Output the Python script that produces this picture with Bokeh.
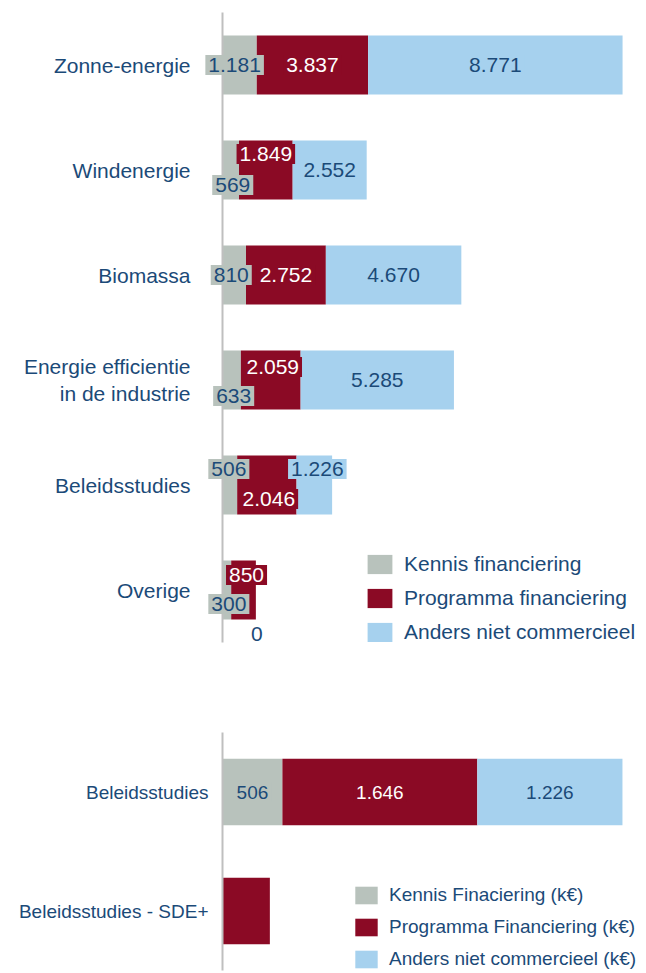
from bokeh.plotting import figure
from bokeh.models import ColumnDataSource, Legend, LegendItem, FactorRange, Range1d
from bokeh.layouts import column
from bokeh.core.properties import value
from bokeh.embed import file_html
from bokeh.resources import INLINE

# ---------------- data ----------------
categories = ["Zonne-energie", "Windenergie", "Biomassa",
              "Energie efficientie\nin de industrie", "Beleidsstudies", "Overige"]
kennis = [1181, 569, 810, 633, 506, 300]
programma = [3837, 1849, 2752, 2059, 2046, 850]
anders = [8771, 2552, 4670, 5285, 1226, 0]
series_names = ["Kennis financiering", "Programma financiering", "Anders niet commercieel"]

categories2 = ["Beleidsstudies", "Beleidsstudies - SDE+"]
kennis2 = [506, 0]
programma2 = [1646, 400]
anders2 = [1226, 0]
series_names2 = ["Kennis Finaciering (k€)", "Programma Financiering (k€)",
                 "Anders niet commercieel (k€)"]

# ---------------- style ----------------
FONT = "Liberation Sans"
DARK = "#1b4a78"
GREY = "#b8c2bc"
RED = "#8b0a25"
BLUE = "#a6d1ee"
COLORS = [GREY, RED, BLUE]
TXT = [DARK, "white", DARK]

# label offsets in screen px (dx, dy) per category / series
offs_top = [
    [(-5, 0), (0, 0), (0, 0)],
    [(2, 15), (0, -16), (0, 0)],
    [(-3, 0), (0, 0), (0, 0)],
    [(2, 16), (2, -13), (0, 0)],
    [(-1, -16), (2, 14), (3, -16)],
    [(2, 14), (3, -15), (1, 44)],
]
show_top = [[True] * 3 for _ in categories]
offs_bot = [[(0, 0)] * 3, [(0, 0)] * 3]
show_bot = [[True, True, True], [False, False, False]]


def fmt(v):
    return f"{v:,}".replace(",", ".")


def label_source(cats, series, offs, show):
    d = dict(x=[], y=[], t=[], tc=[], bc=[], ba=[], dx=[], dy=[])
    for i, c in enumerate(cats):
        start = 0
        for j, s in enumerate(series):
            v = s[i]
            if show[i][j]:
                d["x"].append(start + v / 2)
                d["y"].append(c)
                d["t"].append(fmt(v))
                zero = v == 0
                d["tc"].append(DARK if zero else TXT[j])
                d["bc"].append(COLORS[j])
                d["ba"].append(0.0 if zero else 1.0)
                d["dx"].append(offs[i][j][0])
                d["dy"].append(offs[i][j][1])
            start += v
    return ColumnDataSource(d)


def build(cats, k, p_, a, names, width, height, left, top, bottom, xend,
          cat_size, val_size, leg_size, standoff, bar_h,
          leg_loc, glyph_w, glyph_h, leg_spacing, offs, show):
    src = ColumnDataSource(dict(cat=cats, k=k, p=p_, a=a))
    p = figure(width=width, height=height, output_backend="svg", toolbar_location=None,
               y_range=FactorRange(factors=list(reversed(cats)), range_padding=0),
               x_range=Range1d(0, xend),
               min_border_left=left, min_border_right=0,
               min_border_top=top, min_border_bottom=bottom)
    rs = p.hbar_stack(["k", "p", "a"], y="cat", height=bar_h, color=COLORS,
                      line_color=None, source=src)
    p.xaxis.visible = False
    p.xgrid.grid_line_color = None
    p.ygrid.grid_line_color = None
    p.outline_line_color = None
    ax = p.yaxis[0]
    ax.axis_line_color = "#bfbfbf"
    ax.axis_line_width = 2
    ax.major_tick_line_color = None
    ax.minor_tick_line_color = None
    ax.major_label_text_font = FONT
    ax.major_label_text_font_size = cat_size
    ax.major_label_text_color = DARK
    ax.major_label_standoff = standoff

    ls = label_source(cats, [k, p_, a], offs, show)
    tr = p.text(x="x", y="y", text="t", source=ls, text_font=value(FONT),
                text_font_size=val_size, text_color="tc", text_align="center",
                text_baseline="middle", x_offset="dx", y_offset="dy",
                background_fill_color="bc", background_fill_alpha="ba", padding=3)
    tr.level = "overlay"

    items = [LegendItem(label=n, renderers=[r]) for n, r in zip(names, rs)]
    leg = Legend(items=items, location=leg_loc, orientation="vertical",
                 label_text_font=FONT, label_text_font_size=leg_size,
                 label_text_color=DARK, glyph_width=glyph_w, glyph_height=glyph_h,
                 label_height=glyph_h, spacing=leg_spacing, padding=0, margin=0,
                 label_standoff=9, border_line_color=None, background_fill_alpha=0)
    p.add_layout(leg, "center")
    return p


p1 = build(categories, kennis, programma, anders, series_names,
           646, 708, 220, 12, 66, 14614,
           "21px", "21px", "21px", 26, 0.56,
           (142, -2), 31, 24, 10, offs_top, show_top)
p2 = build(categories2, kennis2, programma2, anders2, series_names2,
           646, 264, 222, 24, 2, 3581,
           "19px", "19px", "19px", 8, 0.56,
           (130, 0), 28, 22, 10, offs_bot, show_bot)

layout = column(p1, p2, spacing=0)
open("out.html", "w").write(file_html(layout, INLINE))
